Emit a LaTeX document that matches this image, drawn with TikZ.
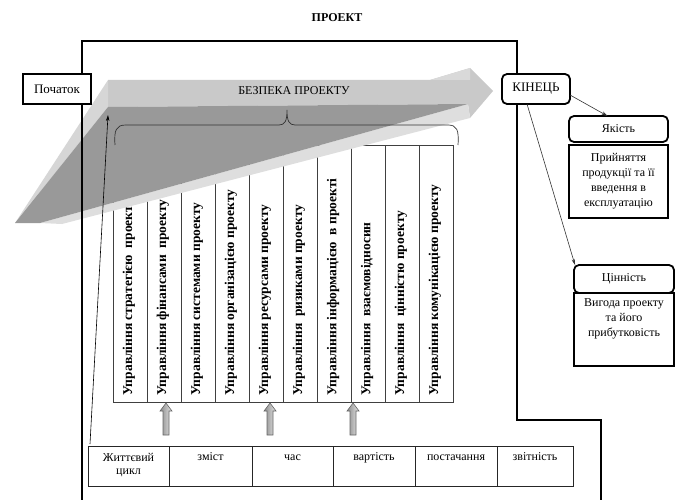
\documentclass[tikz,border=0pt]{standalone}
\usepackage{fontspec}
\setmainfont{Liberation Serif}
\usetikzlibrary{arrows.meta}
\begin{document}
\begin{tikzpicture}[x=1pt,y=-1pt,
  txt/.style={font=\fontsize{12}{15}\selectfont, inner sep=0pt},
  colbox/.style={draw=black!75, line width=0.6pt, anchor=south west, minimum width=34pt, minimum height=257pt, outer sep=0pt, inner sep=0pt},
  coltext/.style={rotate=90, anchor=west, font=\bfseries\fontsize{13.5}{15}\selectfont, inner sep=0pt},
  cell/.style={draw=black!85, line width=0.7pt, anchor=north west, minimum height=40pt, outer sep=0pt, inner sep=0pt},
  celltext/.style={txt, anchor=base},
  thickbox/.style={draw, line width=1.8pt, fill=white, outer sep=0pt, inner sep=0pt, font=\fontsize{12}{15}\selectfont, align=center},
  roundbox/.style={thickbox, rounded corners=5pt},
  frameline/.style={line width=2.3pt},
  thinarrow/.style={draw=black!80, line width=0.6pt, -{Stealth[length=6pt,width=3.5pt]}},
  hollow/.style={draw=black!60, line width=0.6pt, left color=black!45, right color=black!10}
]
\useasboundingbox (0,0) rectangle (680,500);

% columns
\foreach \t [count=\i] in {Управління стратегією~ проекту, Управління фінансами~ проекту, Управління системами проекту, Управління організацією проекту, Управління ресурсами проекту, Управління~ ризиками проекту, Управління інформацією~ в проекті, Управління~ взаємовідносин, Управління~ цінністю проекту, Управління комунікацією проекту}{
  \pgfmathsetmacro\xx{113+34*(\i-1)}
  \node[colbox] (c\i) at (\xx,402) {};
  \node[coltext] (ct\i) at ([xshift=-1pt,yshift=6pt]c\i.south) {\t};
}

% 3D arrow
\fill[black!21] (108,80) -- (430,80) -- (470,68) -- (493,91) -- (470,118) -- (468,104) -- (108,107) -- cycle;
\fill[black!15] (430,80) -- (470,68) -- (470,80) -- cycle;
\fill[black!16] (108,80) -- (108,107) -- (15,223) -- cycle;
\fill[black!13] (40,223) -- (468,104) -- (470,118) -- (62,224) -- cycle;
\fill[black!40] (108,107) -- (468,104) -- (40,223) -- (15,223) -- cycle;

% frame
\draw[frameline] (82,500) -- (82,41) -- (517,41) -- (517,420) -- (601,420) -- (601,500);

% title and label
\node[txt, font=\bfseries\fontsize{12}{15}\selectfont] (title) at (337,18) {ПРОЕКТ};
\node[txt] (bez) at (294,91) {БЕЗПЕКА ПРОЕКТУ};

% brace
\draw[draw=black!80, line width=0.7pt] (115,145) .. controls (114,130) and (116,125) .. (126,125) -- (279,125) .. controls (285,125) and (287,121) .. (287,110) .. controls (287,121) and (289,125) .. (295,125) -- (448,125) .. controls (457,125) and (459,130) .. (458,145);

% boxes
\node[thickbox, font=\fontsize{13}{15}\selectfont, minimum width=68pt, minimum height=30pt] (start) at (57,89) {Початок};
\node[roundbox, font=\fontsize{13}{15}\selectfont, minimum width=68pt, minimum height=30pt] (end) at (536,89) {КІНЕЦЬ};
\node[roundbox, minimum width=99pt, minimum height=26pt] (q) at (618.5,129) {Якість};
\node[thickbox, minimum width=99pt, minimum height=73pt] (qd) at (618.5,181.5) {Прийняття\\продукції та її\\введення в\\експлуатацію};
\node[thickbox, minimum width=100pt, minimum height=73pt, anchor=north] (vd) at (624,293) {};
\node[txt, align=center, anchor=north] (vdt) at ([yshift=-5pt]vd.north) {Вигода проекту\\та його\\прибутковість};
\node[roundbox, minimum width=100pt, minimum height=28pt] (v) at (624,279) {Цінність};

% connectors from end
\draw[thinarrow] (end.350) -- ([xshift=-11pt]q.north);
\draw[thinarrow] ([xshift=-9pt]end.south) -- ([xshift=1pt]v.north west);

% table
\node[cell, minimum width=81pt] (t1) at (88,446) {};
\node[cell, minimum width=83pt] (t2) at (169,446) {};
\node[cell, minimum width=81pt] (t3) at (252,446) {};
\node[cell, minimum width=82pt] (t4) at (333,446) {};
\node[cell, minimum width=82pt] (t5) at (415,446) {};
\node[cell, minimum width=76pt] (t6) at (497,446) {};
\node[celltext] (tt1a) at ([yshift=-15pt]t1.north) {Життєвий};
\node[celltext] (tt1b) at ([yshift=-28pt]t1.north) {цикл};
\node[celltext] (tt2) at ([yshift=-14pt]t2.north) {зміст};
\node[celltext] (tt3) at ([yshift=-14pt]t3.north) {час};
\node[celltext] (tt4) at ([yshift=-14pt]t4.north) {вартість};
\node[celltext] (tt5) at ([yshift=-14pt]t5.north) {постачання};
\node[celltext] (tt6) at ([yshift=-14pt]t6.north) {звітність};

% hollow up arrows
\foreach \ax [count=\j] in {166,270,353}{
  \draw[hollow] (\ax-3,435) -- (\ax-3,411) -- (\ax-6,411) -- (\ax,403) -- (\ax+6,411) -- (\ax+3,411) -- (\ax+3,435) -- cycle;
}

% long thin arrow
\coordinate (ls) at (90,444);
\coordinate (le) at (108,115);
\draw[thinarrow, draw=black] (ls) -- (le);
\end{tikzpicture}
\end{document}
